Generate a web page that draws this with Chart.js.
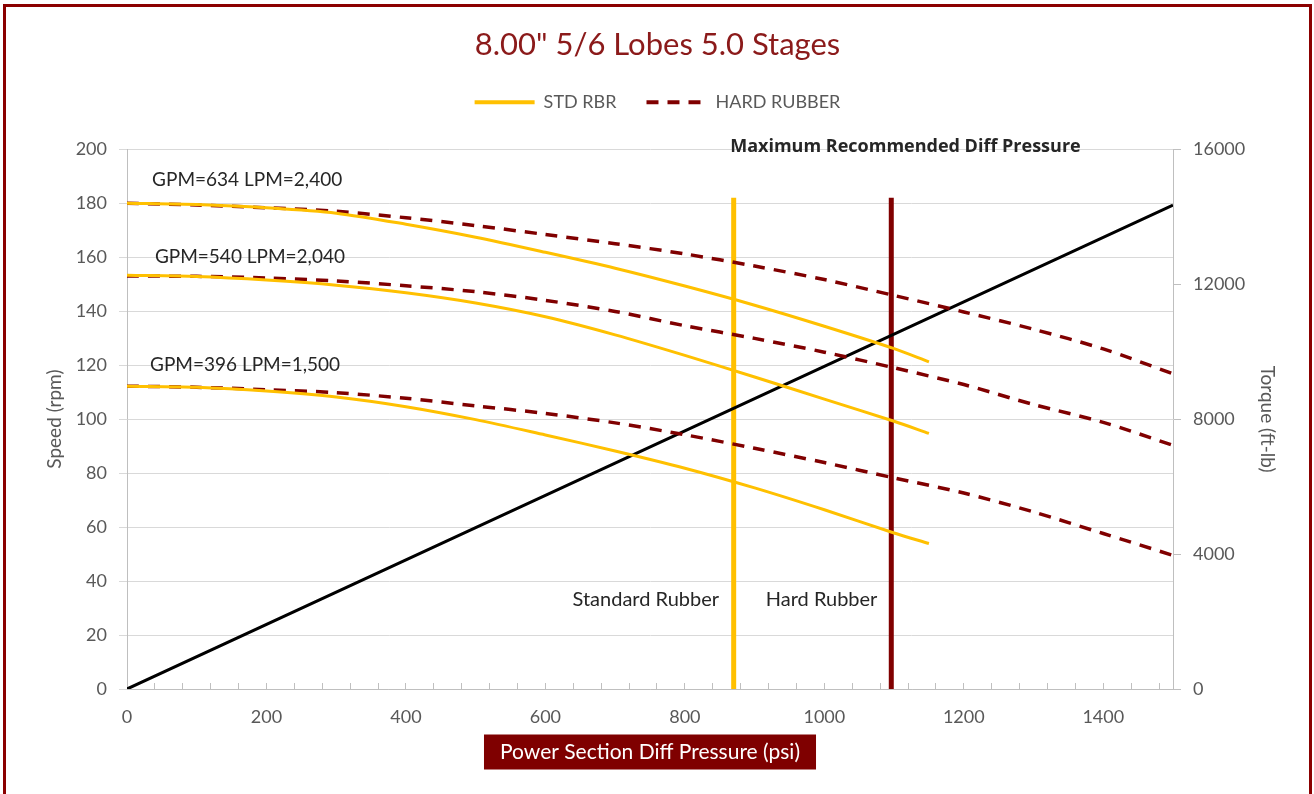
<!DOCTYPE html>
<html>
<head>
<meta charset="utf-8">
<title>8.00" 5/6 Lobes 5.0 Stages</title>
<script src="https://cdn.jsdelivr.net/npm/chart.js@4.4.0/dist/chart.umd.min.js"></script>
<style>
  html, body { margin: 0; padding: 0; background: #fff; overflow: hidden; }
  #frame { position: absolute; left: 3px; top: 4px; width: 1303px; height: 800px; border: 3px solid #8b0000; border-bottom: none; }
  canvas { display: block; }
</style>
</head>
<body>
<div id="frame"><canvas id="chart" width="1303" height="787"></canvas></div>
<script>
// pressure (psi) samples
const stdPsi = [0, 100, 200, 300, 400, 500, 600, 700, 800, 900, 1000, 1100, 1150];
const hardPsi = [0, 100, 200, 300, 400, 500, 600, 700, 800, 900, 1000, 1100, 1200, 1300, 1400, 1500];

// speed (rpm), standard rubber
const std634 = [180, 179.5, 178.3, 176.3, 172.2, 167.4, 161.8, 155.9, 149.3, 142.2, 134.4, 126.1, 121.2];
const std540 = [153.3, 152.8, 151.5, 149.6, 146.8, 143, 137.9, 131.2, 123.6, 115.6, 107.4, 99.2, 94.7];
const std396 = [112.2, 111.8, 110.4, 108.2, 104.6, 99.8, 94.1, 88.2, 81.8, 74.5, 66.4, 57.8, 53.9];

// speed (rpm), hard rubber
const hard634 = [180, 179.3, 178.3, 177, 174.6, 171.7, 168.4, 165, 161.2, 156.7, 151.7, 145.8, 139.7, 133.3, 126, 116.8];
const hard540 = [153, 152.9, 152.3, 151.2, 149.4, 147.2, 144, 139.9, 134.6, 129.9, 124.8, 119, 112.8, 105.4, 98.8, 90.3];
const hard396 = [112.2, 111.8, 110.9, 109.8, 107.7, 104.9, 102.1, 98.6, 94.2, 89.2, 83.9, 78.2, 72.6, 65.6, 57.6, 49.5];

// torque (ft-lb)
const torquePsi = [0, 500, 1000, 1500];
const torque = [0, 4780, 9560, 14340];

// max recommended diff pressure
const stdLimit = 870;
const hardLimit = 1096;
const limitRpm = [0, 182];

const flowLabels = ['GPM=634 LPM=2,400', 'GPM=540 LPM=2,040', 'GPM=396 LPM=1,500'];

const YELLOW = '#ffc000';
const MAROON = '#800000';
const DASH = [12, 9];

const pts = (xs, ys) => xs.map((x, i) => ({ x: x, y: ys[i] }));

function curve(label, xs, ys, color, dash, inLegend) {
    return {
        label: label,
        data: pts(xs, ys),
        borderColor: color,
        backgroundColor: color,
        borderWidth: dash.length ? 3.5 : 3,
        borderDash: dash,
        pointRadius: 0,
        pointStyle: 'line',
        tension: 0.3,
        fill: false,
        yAxisID: 'y',
        inLegend: inLegend
    };
}

// draws the maroon box behind the x axis title
const titleBox = {
    id: 'titleBox',
    beforeDraw(chart) {
        const s = chart.scales.x;
        const ctx = chart.ctx;
        ctx.save();
        ctx.font = '21px Lato';
        const w = ctx.measureText(s.options.title.text).width + 32;
        const cy = s.bottom - 29.4 - 12.6;
        ctx.fillStyle = '#7f0000';
        ctx.fillRect((s.left + s.right) / 2 - w / 2, cy - 17.5, w, 35);
        ctx.restore();
    }
};

// text notes inside the plot
const notes = {
    id: 'notes',
    afterDatasetsDraw(chart) {
        const { ctx, scales: { x, y } } = chart;
        ctx.save();
        ctx.fillStyle = '#262626';
        ctx.textBaseline = 'middle';
        ctx.font = '19px Lato';
        ctx.textAlign = 'left';
        ctx.fillText(flowLabels[0], x.getPixelForValue(36), y.getPixelForValue(188.5));
        ctx.fillText(flowLabels[1], x.getPixelForValue(40), y.getPixelForValue(160));
        ctx.fillText(flowLabels[2], x.getPixelForValue(33), y.getPixelForValue(120));
        ctx.font = '20px Lato';
        ctx.fillText('Hard Rubber', x.getPixelForValue(916), y.getPixelForValue(33.3));
        ctx.textAlign = 'right';
        ctx.fillText('Standard Rubber', x.getPixelForValue(849), y.getPixelForValue(33.3));
        ctx.textAlign = 'left';
        ctx.font = 'bold 18px "Open Sans"';
        ctx.fillText('Maximum Recommended Diff Pressure', x.getPixelForValue(865), y.getPixelForValue(200.8));
        ctx.restore();
    }
};

Chart.defaults.font.family = 'Lato';
Chart.defaults.color = '#595959';

const ctx = document.getElementById('chart').getContext('2d');
new Chart(ctx, {
    type: 'line',
    data: {
        datasets: [
            curve('STD RBR', stdPsi, std634, YELLOW, [], true),
            curve('STD RBR 540', stdPsi, std540, YELLOW, [], false),
            curve('STD RBR 396', stdPsi, std396, YELLOW, [], false),
            curve('HARD RUBBER', hardPsi, hard634, MAROON, DASH, true),
            curve('HARD RUBBER 540', hardPsi, hard540, MAROON, DASH, false),
            curve('HARD RUBBER 396', hardPsi, hard396, MAROON, DASH, false),
            {
                label: 'Torque',
                data: pts(torquePsi, torque),
                borderColor: '#000',
                borderWidth: 3,
                pointRadius: 0,
                yAxisID: 'y2',
                inLegend: false
            },
            {
                label: 'Standard limit',
                data: pts([stdLimit, stdLimit], limitRpm),
                borderColor: YELLOW,
                borderWidth: 5,
                pointRadius: 0,
                yAxisID: 'y',
                inLegend: false
            },
            {
                label: 'Hard limit',
                data: pts([hardLimit, hardLimit], limitRpm),
                borderColor: MAROON,
                borderWidth: 5,
                pointRadius: 0,
                yAxisID: 'y',
                inLegend: false
            }
        ]
    },
    options: {
        responsive: false,
        animation: false,
        layout: { padding: 0 },
        plugins: {
            title: {
                display: true,
                text: '8.00" 5/6 Lobes 5.0 Stages',
                color: '#8b1a1a',
                font: { size: 31, weight: 'normal' },
                padding: { top: 19, bottom: 0 }
            },
            legend: {
                labels: {
                    usePointStyle: true,
                    pointStyleWidth: 60,
                    padding: 30,
                    color: '#595959',
                    font: { size: 18 },
                    // line sample needs the dataset's dash, not the point style
                    generateLabels: chart => Chart.defaults.plugins.legend.labels.generateLabels(chart).map(item => {
                        const ds = chart.data.datasets[item.datasetIndex];
                        item.lineDash = ds.borderDash;
                        item.strokeStyle = ds.borderColor;
                        item.lineWidth = 4;
                        return item;
                    }),
                    filter: (item, data) => data.datasets[item.datasetIndex].inLegend
                }
            },
            tooltip: { enabled: false }
        },
        scales: {
            x: {
                type: 'linear',
                min: 0,
                max: 1500,
                afterFit: s => { s.height = 105; },
                border: { color: '#bfbfbf' },
                grid: { drawOnChartArea: false, tickLength: -6, color: '#bfbfbf' },
                ticks: {
                    stepSize: 40,
                    includeBounds: false,
                    autoSkip: false,
                    maxRotation: 0,
                    padding: 23,
                    font: { size: 18 },
                    callback: v => (v % 200 === 0 ? v : '')
                },
                title: {
                    display: true,
                    text: 'Power Section Diff Pressure (psi)',
                    color: '#fff',
                    font: { size: 21 },
                    padding: { top: 0, bottom: 29.4 }
                }
            },
            // empty top axis, only keeps a gap under the legend
            xTop: {
                type: 'linear',
                position: 'top',
                min: 0,
                max: 1500,
                afterFit: s => { s.height = 28; },
                grid: { display: false },
                border: { display: false },
                ticks: { display: false }
            },
            y: {
                min: 0,
                max: 200,
                afterFit: s => { s.width = 121; },
                border: { color: '#bfbfbf' },
                grid: { color: '#d9d9d9', tickLength: 8 },
                ticks: { stepSize: 20, padding: 12, font: { size: 18 } },
                title: {
                    display: true,
                    text: 'Speed (rpm)',
                    font: { size: 19 },
                    padding: { top: 37, bottom: 0 }
                }
            },
            y2: {
                position: 'right',
                min: 0,
                max: 16000,
                afterFit: s => { s.width = 136; },
                border: { color: '#bfbfbf' },
                grid: { drawOnChartArea: false, tickLength: 8, color: '#bfbfbf' },
                ticks: { stepSize: 4000, padding: 12, font: { size: 18 }, callback: v => v },
                title: {
                    display: true,
                    text: 'Torque (ft-lb)',
                    font: { size: 19 },
                    padding: { top: 30, bottom: 0 }
                }
            }
        }
    },
    plugins: [titleBox, notes]
});
</script>
</body>
</html>
